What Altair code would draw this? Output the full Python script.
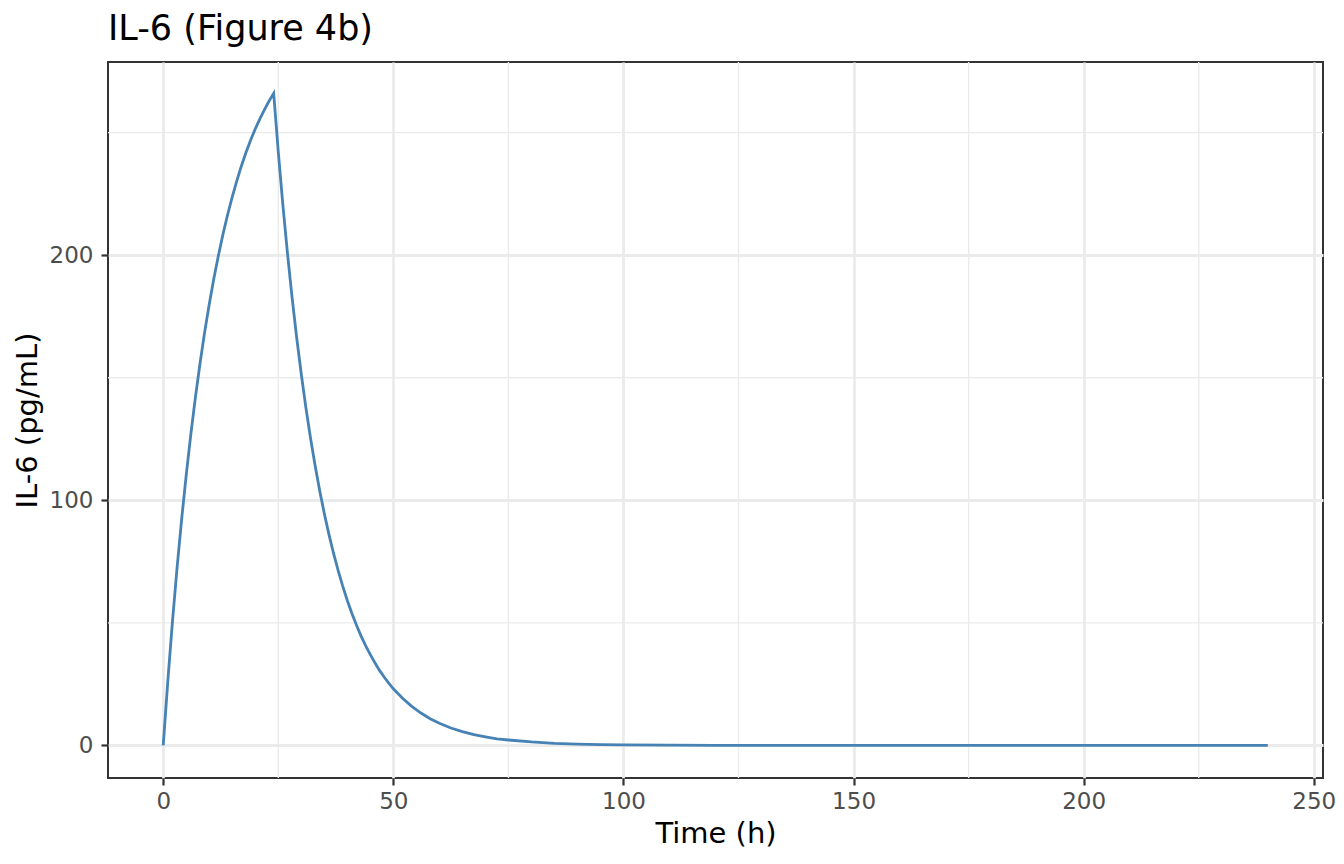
import altair as alt
import pandas as pd

TIME = [0, 1, 2, 3, 4, 5, 6, 7, 8, 9, 10, 11, 12, 13, 14, 15, 16, 17, 18, 19, 20, 21, 22, 23, 24,
        25, 26, 27, 28, 29, 30, 31, 32, 33, 34, 35, 36, 37, 38, 39, 40, 41, 42, 43, 44, 45,
        46, 47, 48, 49, 50, 52, 54, 56, 58, 60, 62.5, 65, 67.5, 70, 72.5, 75, 80, 85, 90, 95,
        100, 110, 120, 150, 200, 240]
IL6 = [0, 26.3, 50.4, 72.3, 92.2, 110.4, 127.0, 142.1, 155.9, 168.6, 180.0, 190.5, 200.0,
       208.7, 216.6, 223.8, 230.4, 236.5, 242.0, 247.0, 251.5, 255.6, 259.4, 262.9, 266.0,
       242.1, 220.4, 200.7, 182.7, 166.3, 151.4, 137.8, 125.4, 114.2, 103.9, 94.6, 86.1,
       78.4, 71.4, 65.0, 59.1, 53.8, 49.0, 44.6, 40.6, 37.0, 33.7, 30.6, 27.9, 25.4, 23.1,
       19.2, 15.9, 13.2, 10.9, 9.0, 7.1, 5.6, 4.4, 3.5, 2.7, 2.2, 1.4, 0.86, 0.54, 0.34,
       0.21, 0.08, 0.03, 0, 0, 0]

X_TICKS = [0, 50, 100, 150, 200, 250]
Y_TICKS = [0, 100, 200]
MINOR_X = [25, 75, 125, 175, 225]
MINOR_Y = [50, 150, 250]

FONT = "DejaVu Sans"
GRID = "#EBEBEB"

df = pd.DataFrame({"time": TIME, "il6": IL6})

xscale = alt.Scale(domain=[-12, 252], nice=False, zero=False)
yscale = alt.Scale(domain=[-13.3, 278.8], nice=False, zero=False)

xaxis = alt.Axis(values=X_TICKS, title="Time (h)", grid=True, gridColor=GRID, gridWidth=2.8,
                 domain=False, tickColor="#333333", tickWidth=2.2, tickSize=7,
                 labelFont=FONT, labelFontSize=23, labelColor="#4D4D4D", labelPadding=5,
                 titleFont=FONT, titleFontSize=29, titleFontWeight="normal", titleColor="black",
                 titlePadding=6)
yaxis = alt.Axis(values=Y_TICKS, title="IL-6 (pg/mL)", grid=True, gridColor=GRID, gridWidth=2.8,
                 domain=False, tickColor="#333333", tickWidth=2.2, tickSize=7,
                 labelFont=FONT, labelFontSize=23, labelColor="#4D4D4D", labelPadding=8,
                 titleFont=FONT, titleFontSize=29, titleFontWeight="normal", titleColor="black",
                 titlePadding=7)

minor_x = alt.Chart(pd.DataFrame({"v": MINOR_X})).mark_rule(color=GRID, strokeWidth=1.4).encode(
    x=alt.X("v:Q", scale=xscale, axis=xaxis)
)
minor_y = alt.Chart(pd.DataFrame({"v": MINOR_Y})).mark_rule(color=GRID, strokeWidth=1.4).encode(
    y=alt.Y("v:Q", scale=yscale, axis=yaxis)
)
line = alt.Chart(df).mark_line(color="#4682B4", strokeWidth=2.8).encode(
    x=alt.X("time:Q", scale=xscale, axis=xaxis),
    y=alt.Y("il6:Q", scale=yscale, axis=yaxis),
)

chart = alt.layer(minor_x, minor_y, line).properties(
    width=1215,
    height=716,
    title=alt.TitleParams("IL-6 (Figure 4b)", anchor="start", frame="group", font=FONT,
                          fontSize=35, fontWeight="normal", color="black", offset=14),
    autosize=alt.AutoSizeParams(type="none"),
    padding={"left": 100, "top": 54, "right": 13, "bottom": 78},
).configure_view(stroke="#333333", strokeWidth=2)

chart.save("out.html", embed_options={"renderer": "svg", "actions": False})
